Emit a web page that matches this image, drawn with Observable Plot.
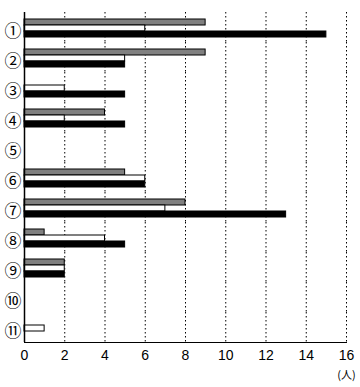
<!DOCTYPE html>
<html>
<head>
<meta charset="utf-8">
<script src="https://cdn.jsdelivr.net/npm/d3@7"></script>
<script src="https://cdn.jsdelivr.net/npm/@observablehq/plot@0.6"></script>
<style>
  html, body { margin: 0; padding: 0; background: white; }
</style>
</head>
<body>
<div id="chart"></div>
<script>
const categories = ["①","②","③","④","⑤","⑥","⑦","⑧","⑨","⑩","⑪"];
const grayValues  = [9, 9, 0, 4, 0, 5, 8, 1, 2, 0, 0];
const whiteValues = [6, 5, 2, 2, 0, 6, 7, 4, 2, 0, 1];
const blackValues = [15, 5, 5, 5, 0, 6, 13, 5, 2, 0, 0];
const seriesNames = ["gray", "white", "black"];
const seriesFills = ["#bcbcbc", "white", "black"];
const xTicks = [0, 2, 4, 6, 8, 10, 12, 14, 16];
const unitLabel = ["(人)"];

const data = categories.flatMap((c, i) => [
  {cat: c, series: "gray", value: grayValues[i]},
  {cat: c, series: "white", value: whiteValues[i]},
  {cat: c, series: "black", value: blackValues[i]}
]).filter(d => d.value > 0);

const chart = Plot.plot({
  width: 360,
  height: 387,
  marginLeft: 24,
  marginRight: 14,
  marginTop: 7,
  marginBottom: 41,
  style: {fontFamily: "'Liberation Sans', Arial, sans-serif", fontSize: "14px", color: "black", background: "white"},
  x: {domain: [0, 16], ticks: xTicks, tickSize: 0, tickPadding: 8, line: true, label: null},
  y: {domain: seriesNames, axis: null, paddingInner: 0, paddingOuter: 0.7, align: 0.6},
  fy: {domain: categories, axis: null, padding: 0},
  color: {domain: seriesNames, range: seriesFills},
  marks: [
    Plot.ruleX(xTicks.filter(d => d > 0), {stroke: "black", strokeWidth: 1, strokeDasharray: "1.5,2.5"}),
    Plot.barX(data, {fy: "cat", y: "series", x: "value", fill: "series", stroke: "black", strokeWidth: 1}),
    Plot.ruleX([0], {stroke: "black", strokeWidth: 1.5}),
    Plot.text(categories, {fy: d => d, y: () => "black", text: d => d, frameAnchor: "left", textAnchor: "end", dx: -3, dy: -3, fontFamily: "'Noto Sans CJK JP', sans-serif", fontSize: 17}),
    Plot.text(unitLabel, {facet: "super", frameAnchor: "bottom-right", text: d => d, textAnchor: "middle", lineAnchor: "middle", dx: 0, dy: 33, fontSize: 11, fontFamily: "'Noto Sans CJK JP', sans-serif"})
  ]
});
document.getElementById("chart").appendChild(chart);
</script>
</body>
</html>
